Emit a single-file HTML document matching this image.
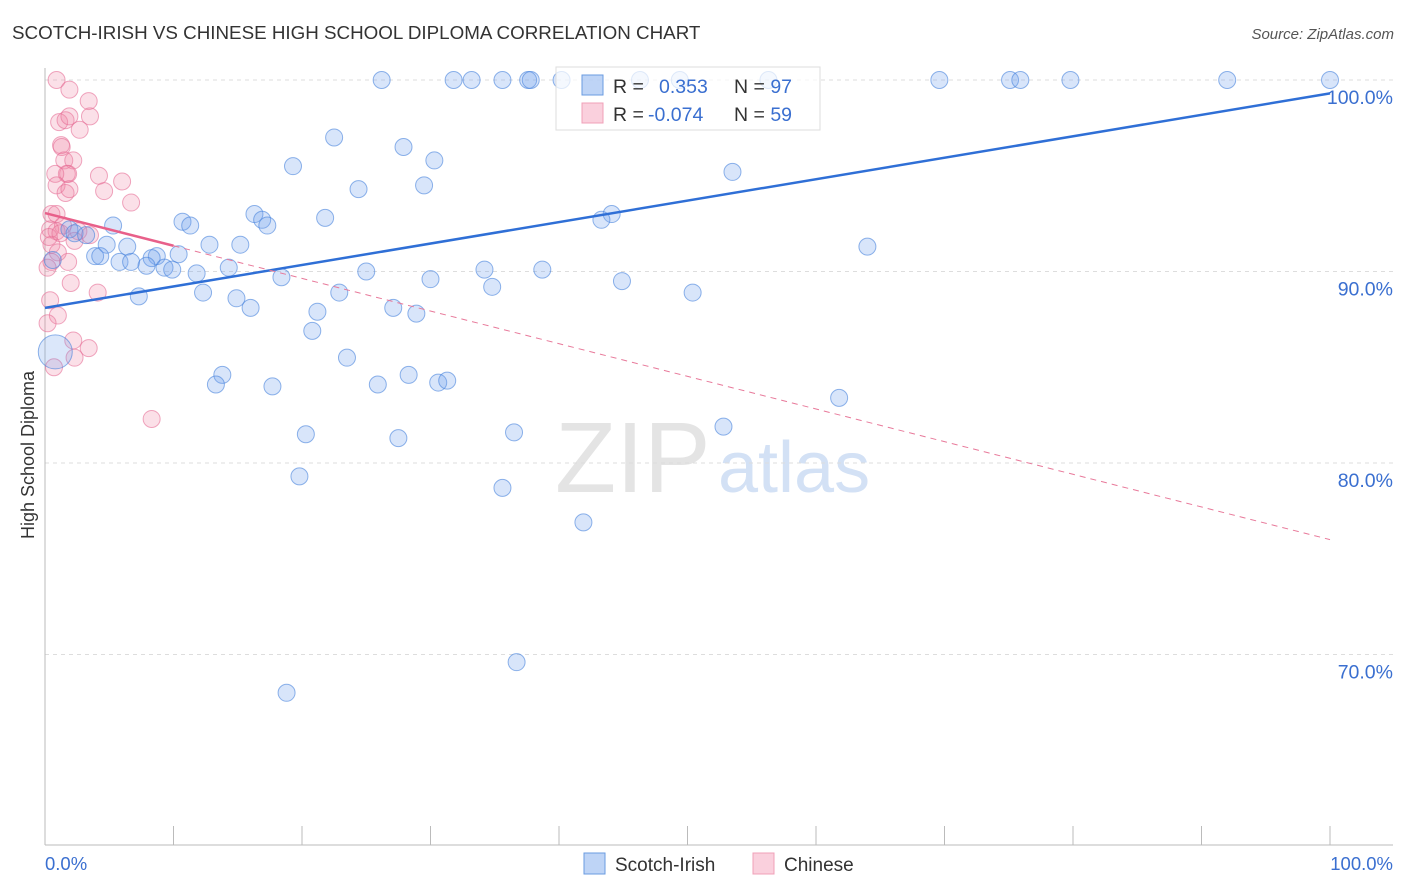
<!DOCTYPE html>
<html><head><meta charset="utf-8">
<style>
body{margin:0;background:#fff;font-family:"Liberation Sans",sans-serif;}
#wrap{position:relative;width:1406px;height:892px;overflow:hidden;}
svg text{font-family:"Liberation Sans",sans-serif;}
</style></head>
<body>
<div id="wrap">
<svg id="chart" width="1406" height="892">
<text x="12" y="39" font-size="18.8" fill="#333">SCOTCH-IRISH VS CHINESE HIGH SCHOOL DIPLOMA CORRELATION CHART</text>
<text x="1394" y="39" font-size="15" fill="#555" text-anchor="end" font-style="italic">Source: ZipAtlas.com</text>
<text transform="translate(34,455) rotate(-90)" font-size="18" fill="#333" text-anchor="middle">High School Diploma</text>
<text x="555" y="492" font-size="100" fill="#e4e4e4" font-family="Liberation Serif">ZIP</text>
<text x="718" y="492" font-size="72" fill="#d3e1f5">atlas</text>
<g id="grid"></g><g id="axes"></g><g id="pts"></g><g id="lines"></g><g id="legend"></g>
</svg>
</div>
<script>
const yTicks=[100,90,80,70];
const yTickLabels=["100.0%","90.0%","80.0%","70.0%"];
const xTickVals=[0,10,20,30,40,50,60,70,80,90,100];
const blueX=[26.2,31.8,33.2,35.6,37.6,37.8,40.2,46.3,49.4,56.3,69.6,75.1,75.9,79.8,92.0,100,22.5,27.9,30.3,19.3,53.5,29.5,24.4,16.3,16.9,44.1,43.3,21.8,10.7,11.3,17.3,5.3,1.9,2.3,3.2,15.2,12.8,4.8,6.4,64.0,3.9,4.3,8.7,8.3,10.4,5.8,6.7,7.9,9.3,9.9,14.3,11.8,25.0,34.2,38.7,18.4,30.0,44.9,34.8,12.3,22.9,50.4,7.3,14.9,16.0,21.2,27.1,28.9,20.8,23.5,13.8,13.3,17.7,25.9,28.3,30.6,31.3,61.8,52.8,20.3,36.5,27.5,19.8,35.6,41.9,36.7,18.8,0.6];
const blueY=[100,100,100,100,100,100,100,100,100,100,100,100,100,100,100,100,97.0,96.5,95.8,95.5,95.2,94.5,94.3,93.0,92.7,93.0,92.7,92.8,92.6,92.4,92.4,92.4,92.2,92.0,91.9,91.4,91.4,91.4,91.3,91.3,90.8,90.8,90.8,90.7,90.9,90.5,90.5,90.3,90.2,90.1,90.2,89.9,90.0,90.1,90.1,89.7,89.6,89.5,89.2,88.9,88.9,88.9,88.7,88.6,88.1,87.9,88.1,87.8,86.9,85.5,84.6,84.1,84.0,84.1,84.6,84.2,84.3,83.4,81.9,81.5,81.6,81.3,79.3,78.7,76.9,69.6,68.0,90.6];
const pinkX=[0.9,1.9,3.4,1.1,1.6,1.9,3.5,2.7,1.25,1.3,1.5,2.2,1.8,1.7,0.8,0.9,4.2,6.0,4.6,1.6,6.7,1.9,0.5,0.9,1.4,0.4,0.9,2.3,0.5,1.0,0.5,1.8,0.2,2.0,4.1,0.4,1.0,0.2,2.2,3.4,2.3,0.7,8.3,0.3,1.2,2.6,3.5];
const pinkY=[100,99.5,98.9,97.8,97.9,98.1,98.1,97.4,96.6,96.5,95.8,95.8,95.1,95.1,95.1,94.5,95.0,94.7,94.2,94.1,93.6,94.3,93.0,93.0,92.4,92.2,92.1,91.6,91.4,91.0,90.5,90.5,90.2,89.4,88.9,88.5,87.7,87.3,86.4,86.0,85.5,85.0,82.3,91.8,92.0,92.1,91.9];
const blueBig=[[0.8,85.8,17]];
const blueLine=[88.1,99.3];
const pinkLine=[93.05,76.0];
const NS="http://www.w3.org/2000/svg";
const X=v=>45+v*12.85, Y=v=>80+(100-v)*19.15;
function mk(tag,attrs,parent){const e=document.createElementNS(NS,tag);for(const k in attrs)e.setAttribute(k,attrs[k]);document.getElementById(parent).appendChild(e);return e;}
yTicks.forEach((t,i)=>{
 const l=mk('line',{x1:45,x2:1393,y1:Y(t),y2:Y(t),stroke:'#ddd','stroke-dasharray':'4,4'},'grid');
 
 
 const tx=mk('text',{x:1393,y:Y(t)+24,'font-size':19.5,fill:'#3a6fd0','text-anchor':'end'},'grid');
 tx.textContent=yTickLabels[i];
 
 
});
let a=mk('line',{x1:45,x2:45,y1:68,y2:845,stroke:'#bbb'},'axes');


a=mk('line',{x1:45,x2:1393,y1:845,y2:845,stroke:'#bbb'},'axes');


xTickVals.forEach(v=>{const t=mk('line',{x1:X(v),x2:X(v),y1:826,y2:845,stroke:'#bbb'},'axes');
 
 });
let xl=mk('text',{x:45,y:870,'font-size':18.5,fill:'#3a6fd0'},'axes');xl.textContent='0.0%';


xl=mk('text',{x:1393,y:870,'font-size':18.5,fill:'#3a6fd0','text-anchor':'end'},'axes');xl.textContent='100.0%';


pinkX.forEach((x,i)=>{const c=mk('circle',{cx:X(x),cy:Y(pinkY[i]),r:8.5,fill:'rgba(240,130,165,0.25)',stroke:'rgba(230,110,150,0.6)','stroke-width':1},'pts');
 
 });
blueX.forEach((x,i)=>{const c=mk('circle',{cx:X(x),cy:Y(blueY[i]),r:8.5,fill:'rgba(110,160,235,0.27)',stroke:'rgba(70,130,220,0.6)','stroke-width':1},'pts');
 
 });
blueBig.forEach(b=>{const c=mk('circle',{cx:X(b[0]),cy:Y(b[1]),r:b[2],fill:'rgba(110,160,235,0.25)',stroke:'rgba(70,130,220,0.6)'},'pts');
 
 });
let ln=mk('line',{x1:X(0),y1:Y(blueLine[0]),x2:X(100),y2:Y(blueLine[1]),stroke:'#2f6fd6','stroke-width':2.5},'lines');


const pAt=v=>pinkLine[0]+(pinkLine[1]-pinkLine[0])*v/100;
ln=mk('line',{x1:X(0),y1:Y(pAt(0)),x2:X(10),y2:Y(pAt(10)),stroke:'#e8608a','stroke-width':2.5},'lines');


ln=mk('line',{x1:X(10),y1:Y(pAt(10)),x2:X(100),y2:Y(pAt(100)),stroke:'#e8799a','stroke-width':1,'stroke-dasharray':'6,5'},'lines');


const lg=document.getElementById('legend');
lg.innerHTML=`<rect x="556" y="67" width="264" height="63" fill="rgba(255,255,255,0.72)" stroke="#ddd"/>
<rect x="582" y="75" width="21" height="20" fill="rgba(110,160,235,0.45)" stroke="#6a9be0"/>
<rect x="582" y="103" width="21" height="20" fill="rgba(245,150,180,0.45)" stroke="#f0a0b8"/>
<text x="613" y="93" font-size="19.5" fill="#333">R = <tspan x="659" fill="#3a6fd0">0.353</tspan><tspan x="734" fill="#333">N = </tspan><tspan fill="#3a6fd0">97</tspan></text>
<text x="613" y="121" font-size="19.5" fill="#333">R = <tspan x="648" fill="#3a6fd0">-0.074</tspan><tspan x="734" fill="#333">N = </tspan><tspan fill="#3a6fd0">59</tspan></text>
<rect x="584" y="853" width="21" height="21" fill="rgba(110,160,235,0.45)" stroke="#6a9be0"/>
<text x="615" y="871" font-size="19" fill="#333">Scotch-Irish</text>
<rect x="753" y="853" width="21" height="21" fill="rgba(245,150,180,0.45)" stroke="#f0a0b8"/>
<text x="784" y="871" font-size="19" fill="#333">Chinese</text>`;
</script>
</body></html>
